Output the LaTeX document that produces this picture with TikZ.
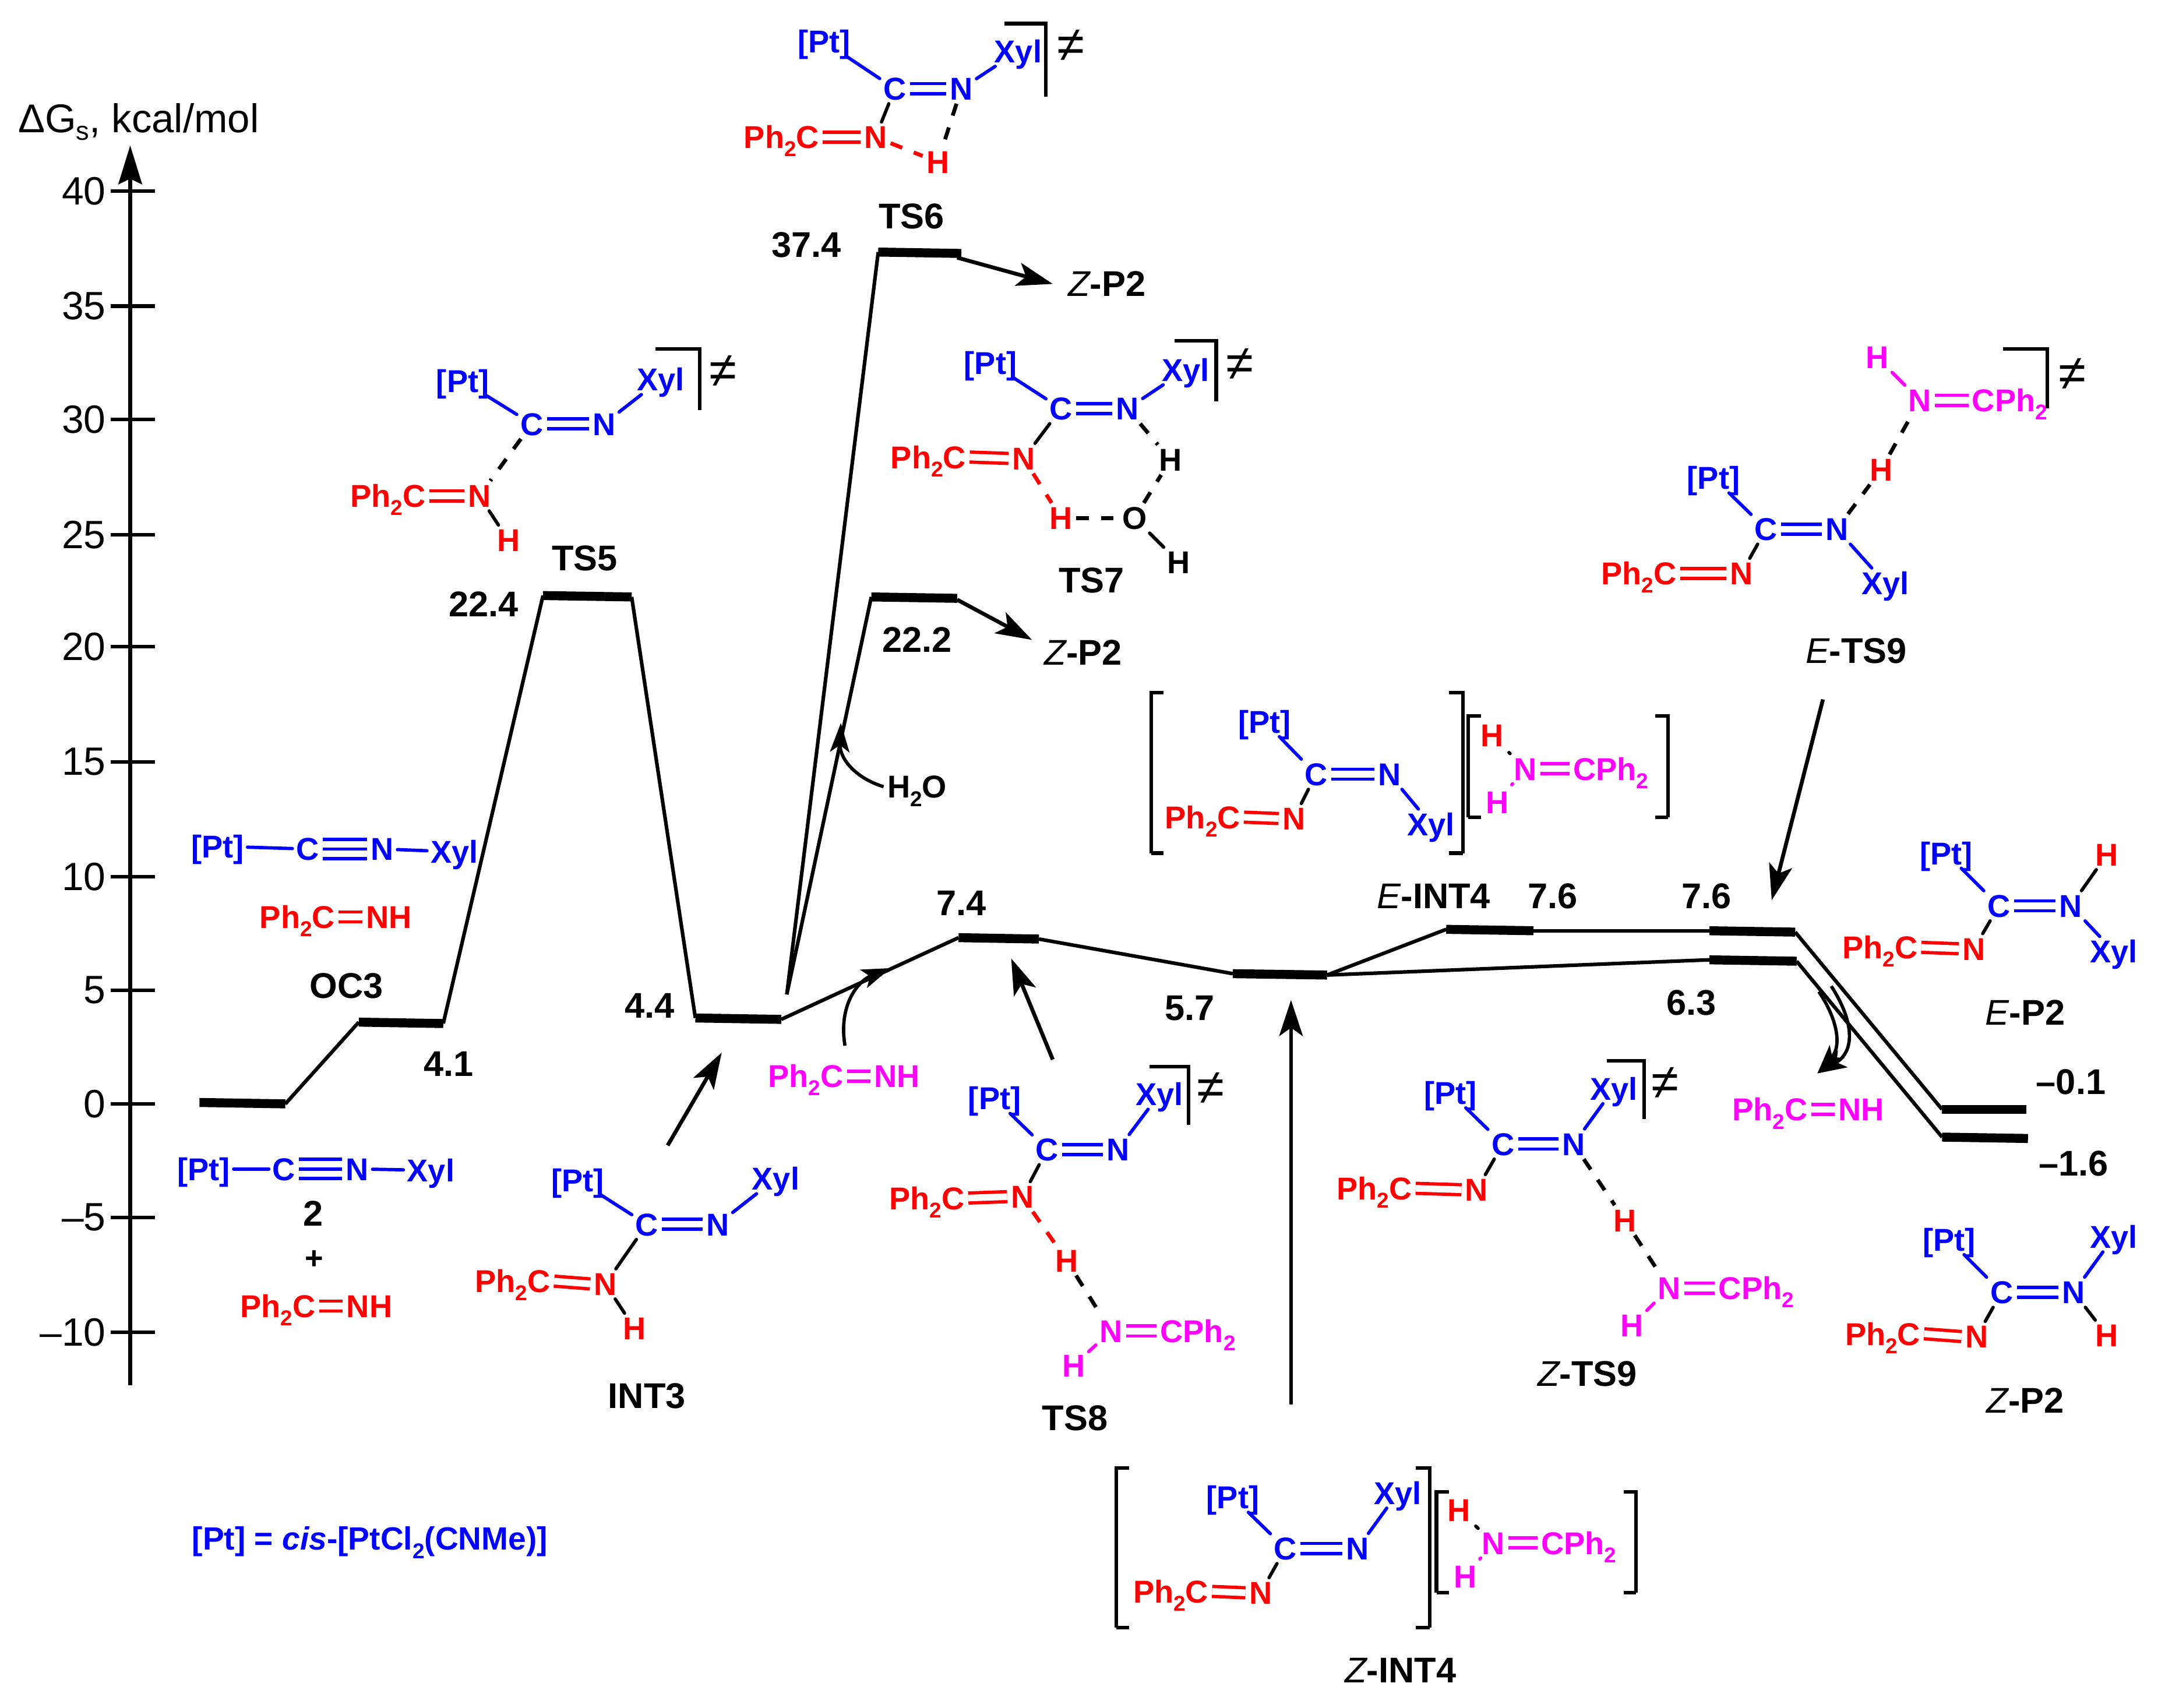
\documentclass[tikz,border=0pt]{standalone}
\usepackage{fontspec}
\setmainfont{Liberation Sans}
\usetikzlibrary{arrows.meta}
\definecolor{pblue}{RGB}{0,0,255}
\definecolor{pred}{RGB}{255,0,0}
\definecolor{pmag}{RGB}{255,0,255}
\newcommand{\subtwo}{\raisebox{-0.26em}{\fontsize{15.5}{15.5}\selectfont 2}}
\newcommand{\phc}{Ph\subtwo C}
\newcommand{\cph}{CPh\subtwo}
\tikzset{
  atom/.style={font=\bfseries\fontsize{22.8}{24}\selectfont,inner sep=2.5pt,text height=16.4pt,text depth=0pt},
  ab/.style={atom,text=pblue}, ar/.style={atom,text=pred}, am/.style={atom,text=pmag}, ak/.style={atom,text=black},
  lab/.style={font=\bfseries\fontsize{25.8}{27}\selectfont,inner sep=0pt,text=black},
  tick/.style={font=\fontsize{28.5}{30}\selectfont,inner sep=0pt,anchor=east,text=black},
  bond/.style={line width=2.4pt,line cap=round},
  sb/.style={bond,pblue}, sr/.style={bond,pred}, sm/.style={bond,pmag}, sk/.style={bond,black},
  dk/.style={bond,black,line cap=butt,line width=2.8pt,dash pattern=on 9pt off 9pt},
  dr/.style={bond,pred,line cap=butt,line width=2.8pt,dash pattern=on 9pt off 9pt},
  dbl/.style={line width=2.4pt,double,double distance=4.8pt},
  tripleb/.style={line width=2.4pt,pblue,double,double distance=11.6pt},
  brack/.style={line width=2.6pt,black},
  ne/.style={font=\fontsize{36}{36}\selectfont,inner sep=0pt,text=black},
  bar/.style={line width=6.5pt,black},
  thin/.style={line width=2.6pt,black},
  arr/.style={line width=2.8pt,black,-{Stealth[length=26pt,width=17pt,inset=6pt]}},
  carr/.style={line width=2.4pt,black,-{Stealth[length=21pt,width=14pt,inset=5pt]}},
}
\newcommand{\level}[3]{\coordinate (#1l) at (#2);\coordinate (#1r) at (#3);\draw[bar] (#1l) -- (#1r);}
\newcommand{\straight}[3]{\coordinate (#1s) at (#2);\coordinate (#1e) at (#3);\draw[arr] (#1s) -- (#1e);}
\newcommand{\core}[7]{%
  \node[ab] (#1pt) at (#2) {[Pt]};
  \node[ab] (#1c) at (#3) {C};
  \node[ab] (#1n) at (#4) {N};
  \node[ab] (#1x) at (#5) {Xyl};
  \node[ar,anchor=east] (#1ph) at (#6) {\phc};
  \node[ar] (#1nr) at (#7) {N};
  \draw[sb] (#1pt) -- (#1c);
  \draw[dbl,pblue] (#1c.east) -- (#1n.west);
  \draw[sb] (#1n) -- (#1x);
  \draw[dbl,pred] (#1ph.east) -- (#1nr.west);
}
\newcommand{\corners}[3]{\draw[brack] (#1) -- (#2) -- (#3);}
\begin{document}
\begin{tikzpicture}[x=1pt,y=-1pt]
\useasboundingbox (0,0) rectangle (1568,1232.8);
% axis
\coordinate (axb) at (94,1000);
\coordinate (axt) at (94,105);
\draw[line width=2.8pt,-{Stealth[length=28pt,width=17pt,inset=4pt]}] (axb) -- (axt);
\foreach \v/\y in {40/138,35/221,30/303,25/386,20/467,15/550,10/633,5/715,0/797,--5/879,--10/962}{
  \draw[line width=2.6pt] (80,\y) -- (112,\y);
  \node[tick] at (76.5,\y) {\v};
}
\node[font=\fontsize{29}{30}\selectfont,inner sep=0pt] (ylab) at (100,88) {ΔG\raisebox{-0.2em}{\fontsize{19}{19}\selectfont s}, kcal/mol};
% levels
\level{a}{144,796}{206,797}
\level{b}{259,738}{320,739}
\level{c}{392,430}{456,431}
\level{d}{502,735}{564,736}
\level{e}{634,182}{694,183}
\level{f}{629,431}{691,432}
\level{g}{692,677}{750,678}
\level{h}{890,703}{958,704}
\level{i}{1044,671}{1107,672}
\level{j}{1234,672}{1296,673}
\level{k}{1234,693}{1297,694}
\level{m}{1402,801}{1463,801}
\level{o}{1402,821}{1464,822}
\coordinate (dd) at (568,718);
\draw[thin] (ar) -- (bl);
\draw[thin] (br) -- (cl);
\draw[thin] (cr) -- (dl);
\draw[thin] (dd) -- (el);
\draw[thin] (dd) -- (fl);
\draw[thin] (dr) -- (gl);
\draw[thin] (gr) -- (hl);
\draw[thin] (hr) -- (il);
\draw[thin] (ir) -- (jl);
\draw[thin] (hr) -- (kl);
\draw[thin] (jr) -- (ml);
\draw[thin] (kr) -- (ol);
% straight arrows
\straight{s1}{691,186}{760,205}
\straight{s2}{691,433}{745,462}
\straight{s3}{482,827}{521,760}
\straight{s4}{760,765}{730,692}
\straight{s5}{932,1014}{932,722}
\straight{s6}{1316,505}{1279,650}
% curved arrows
\node[ak] (wat) at (662,568) {H\subtwo O};
\draw[carr] (wat.west) .. controls (618,562) and (606,548) .. (607,522);
% level texts
\node[lab] (t1) at (250,712) {OC3};
\node[lab] (t2) at (324,768) {4.1};
\node[lab] (t3) at (422,403) {TS5};
\node[lab] (t4) at (349,436) {22.4};
\node[lab] (t5) at (469,726) {4.4};
\node[lab] (t6) at (658,156) {TS6};
\node[lab] (t7) at (582,177) {37.4};
\node[lab] (t8) at (662,462) {22.2};
\node[lab] (t9) at (694,652) {7.4};
\node[lab] (t10) at (859,728) {5.7};
\node[lab] (t11) at (1121,647) {7.6};
\node[lab] (t12) at (1232,647) {7.6};
\node[lab] (t13) at (1221,724) {6.3};
\node[lab] (t14) at (1495,781) {–0.1};
\node[lab] (t15) at (1497,840) {–1.6};
\newcommand{\zlab}[2]{{\mdseries\itshape #1}-#2}
\node[lab] (l1) at (799,205) {\zlab{Z}{P2}};
\node[lab] (l2) at (782,471) {\zlab{Z}{P2}};
\node[lab] (l3) at (1340,470) {\zlab{E}{TS9}};
\node[lab] (l4) at (1035,647) {\zlab{E}{INT4}};
\node[lab] (l5) at (1462,731) {\zlab{E}{P2}};
\node[lab] (l6) at (1462,1011) {\zlab{Z}{P2}};
\node[lab] (l7) at (1146,992) {\zlab{Z}{TS9}};
\node[lab] (l8) at (1011,1206) {\zlab{Z}{INT4}};
\node[lab] (l9) at (467,1008) {INT3};
\node[lab] (l10) at (776,1024) {TS8};
\node[lab] (l11) at (788,419) {TS7};
% compound 2
\node[ab] (p1) at (147,844) {[Pt]};
\node[ab] (p2) at (205,844) {C};
\node[ab] (p3) at (258,844) {N};
\node[ab] (p4) at (311,845) {Xyl};
\draw[sb] (p1) -- (p2); \draw[sb] (p3) -- (p4);
\draw[tripleb] (p2.east) -- (p3.west);
\draw[line width=2.4pt,pblue] (p2.east) -- (p3.west);
\node[lab] (p5) at (226,876) {2};
\node[ak] (p6) at (227,908) {+};
\node[ar,anchor=east] (p7) at (230.5,943) {\phc};
\node[ar,anchor=west] (p8) at (247.5,943) {NH};
\draw[dbl,pred] (p7.east) -- (p8.west);
% OC3
\node[ab] (q1) at (157,611) {[Pt]};
\node[ab] (q2) at (222,613) {C};
\node[ab] (q3) at (276,613) {N};
\node[ab] (q4) at (328,615) {Xyl};
\draw[sb] (q1) -- (q2); \draw[sb] (q3) -- (q4);
\draw[tripleb] (q2.east) -- (q3.west);
\draw[line width=2.4pt,pblue] (q2.east) -- (q3.west);
\node[ar,anchor=east] (q5) at (244.5,662) {\phc};
\node[ar,anchor=west] (q6) at (261.5,662) {NH};
\draw[dbl,pred] (q5.east) -- (q6.west);
% TS5
\core{a}{334,275}{384,306}{436,306}{477,274}{310,358}{346,358}
\node[ar] (ah) at (367,390) {H};
\draw[dk] (ac) -- (anr); \draw[sk] (anr) -- (ah);
\corners{473,252}{505,252}{505,296}
\node[ne] (an) at (522,268) {≠};
% TS6
\core{b}{595,30}{646,64}{694,64}{735,37}{594,99}{632,99}
\node[ar] (bh) at (677,117) {H};
\draw[sk] (bc) -- (bnr); \draw[dk] (bn) -- (bh); \draw[dr] (bnr) -- (bh);
\corners{725,17}{755,17}{755,70}
\node[ne] (bb) at (773,33) {≠};
% TS7
\core{c}{715,262}{766,295}{814,295}{856,267}{700,330}{739,331}
\node[ar] (ch) at (766,374) {H};
\node[ak] (co) at (819,374) {O};
\node[ak] (ch2) at (845,332) {H};
\node[ak] (ch3) at (851,406) {H};
\draw[sk] (cc) -- (cnr); \draw[dr] (cnr) -- (ch); \draw[dk] (cn) -- (ch2);
\draw[dk] (ch) -- (co); \draw[dk] (co) -- (ch2); \draw[sk] (co) -- (ch3);
\corners{848,246}{878,246}{878,290}
\node[ne] (cb) at (895,263) {≠};
% E-TS9
\core{d}{1237,345}{1275,382}{1326,382}{1361,421}{1213,414}{1257,414}
\node[ar] (dh) at (1358,339) {H};
\node[am] (dnm) at (1386,289) {N};
\node[am,anchor=west] (dcp) at (1421,289) {\cph};
\node[am] (dhm) at (1355,258) {H};
\draw[sk] (dc) -- (dnr); \draw[dk] (dn) -- (dh); \draw[dk] (dh) -- (dnm); \draw[sm] (dhm) -- (dnm);
\draw[dbl,pmag] (dnm.east) -- (dcp.west);
\corners{1446,252}{1478,252}{1478,295}
\node[ne] (db) at (1496,270) {≠};
% E-INT4
\core{e}{913,521}{950,559}{1003,559}{1033,595}{898,590}{934,591}
\draw[sk] (ec) -- (enr);
\corners{840,500}{831,500}{831,616}\draw[brack] (831,616) -- (840,616);
\corners{1046,500}{1056,500}{1056,616}\draw[brack] (1056,616) -- (1046,616);
\corners{1069,517}{1060,517}{1060,590}\draw[brack] (1060,590) -- (1069,590);
\corners{1195,517}{1204,517}{1204,590}\draw[brack] (1204,590) -- (1195,590);
\node[ar] (eh1) at (1077,531) {H};
\node[am] (eh2) at (1081,579) {H};
\node[am] (enm) at (1101,555) {N};
\node[am,anchor=west] (ecp) at (1133,555) {\cph};
\draw[sk,shorten <=2pt] (eh1) -- (enm); \draw[sm,shorten <=2pt] (eh2) -- (enm);
\draw[dbl,pmag] (enm.east) -- (ecp.west);
% E-P2
\core{f}{1405,616}{1443,654}{1495,654}{1526,687}{1387,684}{1425,685}
\node[ar] (fh) at (1521,617) {H};
\draw[sk] (fc) -- (fnr); \draw[sk] (fn) -- (fh);
% Z-P2
\core{g}{1407,895}{1445,933}{1497,933}{1526,893}{1389,963}{1427,965}
\node[ar] (gh) at (1521,964) {H};
\draw[sk] (gc) -- (gnr); \draw[sk] (gn) -- (gh);
% Z-TS9
\core{h}{1047,789}{1085,826}{1136,826}{1165,786}{1022,858}{1066,859}
\node[ar] (hh) at (1173,881) {H};
\node[am] (hnm) at (1205,930) {N};
\node[am,anchor=west] (hcp) at (1238,930) {\cph};
\node[am] (hhm) at (1178,957) {H};
\draw[sk] (hc) -- (hnr); \draw[dk] (hn) -- (hh); \draw[dk] (hh) -- (hnm); \draw[sm] (hhm) -- (hnm);
\draw[dbl,pmag] (hnm.east) -- (hcp.west);
\corners{1160,766}{1187,766}{1187,808}
\node[ne] (hb) at (1202,782) {≠};
% TS8
\core{i}{718,793}{756,830}{807,830}{837,790}{699,865}{738,864}
\node[ar] (ih) at (770,910) {H};
\node[am] (inm) at (802,961) {N};
\node[am,anchor=west] (icp) at (835,961) {\cph};
\node[am] (ihm) at (775,986) {H};
\draw[sk] (ic) -- (inr); \draw[dr] (inr) -- (ih); \draw[dk] (ih) -- (inm); \draw[sm] (ihm) -- (inm);
\draw[dbl,pmag] (inm.east) -- (icp.west);
\corners{830,770}{858,770}{858,812}
\node[ne] (ib) at (874,786) {≠};
% INT3
\core{j}{417,852}{467,884}{518,884}{560,851}{400,925}{437,927}
\node[ar] (jh) at (458,959) {H};
\draw[sk] (jc) -- (jnr); \draw[sk] (jnr) -- (jh);
% Z-INT4
\core{k}{890,1081}{928,1118}{980,1118}{1009,1078}{875,1149}{910,1150}
\draw[sk] (kc) -- (knr);
\corners{815,1060}{806,1060}{806,1175}\draw[brack] (806,1175) -- (815,1175);
\corners{1022,1060}{1032,1060}{1032,1175}\draw[brack] (1032,1175) -- (1022,1175);
\corners{1046,1077}{1037,1077}{1037,1150}\draw[brack] (1037,1150) -- (1046,1150);
\corners{1172,1077}{1181,1077}{1181,1150}\draw[brack] (1181,1150) -- (1172,1150);
\node[ar] (kh1) at (1053,1090) {H};
\node[am] (kh2) at (1058,1138) {H};
\node[am] (knm) at (1078,1114) {N};
\node[am,anchor=west] (kcp) at (1110,1114) {\cph};
\draw[sk,shorten <=2pt] (kh1) -- (knm); \draw[sm,shorten <=2pt] (kh2) -- (knm);
\draw[dbl,pmag] (knm.east) -- (kcp.west);
% imine reagents
\node[am,anchor=east] (imm) at (611.5,777) {\phc};
\node[am,anchor=west] (imn) at (628.5,777) {NH};
\draw[dbl,pmag] (imm.east) -- (imn.west);
\coordinate (im1) at (610,755);
\coordinate (im2) at (643,699);
\draw[carr] (im1) .. controls (605,725) and (620,708) .. (im2);
\node[am,anchor=east] (rm1) at (1307.5,801) {\phc};
\node[am,anchor=west] (rm2) at (1324.5,801) {NH};
\draw[dbl,pmag] (rm1.east) -- (rm2.west);
\coordinate (c1) at (1322,712);
\coordinate (c2) at (1313,716);
\coordinate (c3) at (1312,775);
\draw[carr] (c1) .. controls (1340,740) and (1338,760) .. (c3);
\draw[carr] (c2) .. controls (1326,735) and (1330,755) .. (c3);
% legend
\node[atom,font=\bfseries\fontsize{23.2}{25}\selectfont,text=pblue,text depth=4pt,anchor=west] (leg) at (136,1113) {[Pt] = \textit{cis}-[PtCl\subtwo(CNMe)]};
\end{tikzpicture}
\end{document}
